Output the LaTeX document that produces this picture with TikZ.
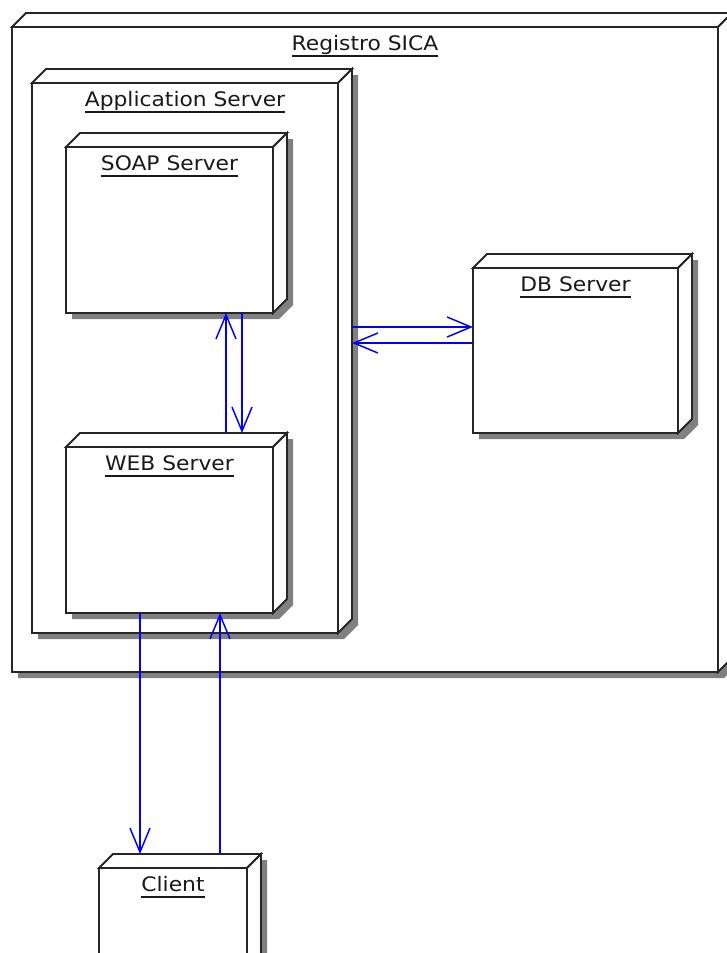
\documentclass[tikz,border=0pt]{standalone}
\usepackage{fontspec}
\newfontfamily\umlfont[FakeStretch=1.09]{DejaVu Sans}
\usetikzlibrary{arrows.meta,calc}

\definecolor{edge}{HTML}{262626}
\definecolor{shadowgray}{HTML}{808080}
\definecolor{flowblue}{HTML}{0000FF}

\tikzset{
  frontface/.style={draw=edge, fill=white, line width=1.4pt, inner sep=0pt,
    outer sep=0pt, rectangle, anchor=north west},
  facepart/.style={draw=edge, fill=white, line width=1.4pt, line join=miter},
  dropshadow/.style={fill=shadowgray},
  lbl/.style={inner sep=0pt, outer sep=0pt, anchor=base,
    font=\umlfont\fontsize{15}{18}\selectfont, text=black!90},
  ul/.style={draw=black!90, line width=1.1pt},
  flow/.style={draw=flowblue, line width=1.2pt,
    -{Straight Barb[length=18pt,width=15pt,line width=1.1pt]}},
}

% UML deployment node: #1 name, #2/#3 front top-left (px), #4 width, #5 height, #6 title
\newcommand\depnode[6]{%
  \path[dropshadow] (#2+6,#3+6) -- ++(14,-14) -- ++(#4,0) -- ++(0,#5)
     -- ++(-14,14) -- ++(-#4,0) -- cycle;
  \node[frontface, minimum width=#4*0.75pt, minimum height=#5*0.75pt]
     (#1) at (#2,#3) {};
  \path[facepart] (#1.north west) -- ++(14,-14) -- ++(#4,0)
     -- (#1.north east) -- cycle;
  \path[facepart] (#1.north east) -- ++(14,-14) -- ++(0,#5)
     -- (#1.south east) -- cycle;
  \node[lbl] (#1-title) at ($(#1.north)+(0,23)$) {#6};
  \draw[ul] ($(#1-title.base west)+(0,6)$) -- ($(#1-title.base east)+(0,6)$);
}

\begin{document}
\begin{tikzpicture}[x=0.75pt, y=-0.75pt]
  \useasboundingbox (0,0) rectangle (727,953);
  \clip (0,0) rectangle (727,953);
  \fill[white] (0,0) rectangle (727,953);

  \depnode{sica}{12}{27}{706}{645}{Registro SICA}
  \depnode{app}{32}{83}{306}{550}{Application Server}
  \depnode{soap}{66}{147}{207}{166}{SOAP Server}
  \depnode{web}{66}{447}{207}{166}{WEB Server}
  \depnode{db}{473}{268}{205}{165}{DB Server}
  \depnode{client}{99}{868}{148}{120}{Client}

  % SOAP <-> WEB
  \draw[flow] ($(web.north west)+(160,-14)$) -- ($(soap.south west)+(160,0)$);
  \draw[flow] ($(soap.south west)+(176,0)$) -- ($(web.north west)+(176,-14)$);

  % Application Server <-> DB Server
  \draw[flow] ($(app.north east)+(14,244)$) -- ($(db.north west)+(0,59)$);
  \draw[flow] ($(db.north west)+(0,75)$) -- ($(app.north east)+(14,260)$);

  % WEB Server <-> Client
  \draw[flow] ($(web.south west)+(74,0)$) -- ($(client.north west)+(41,-14)$);
  \draw[flow] ($(client.north west)+(121,-14)$) -- ($(web.south west)+(154,0)$);
\end{tikzpicture}
\end{document}
